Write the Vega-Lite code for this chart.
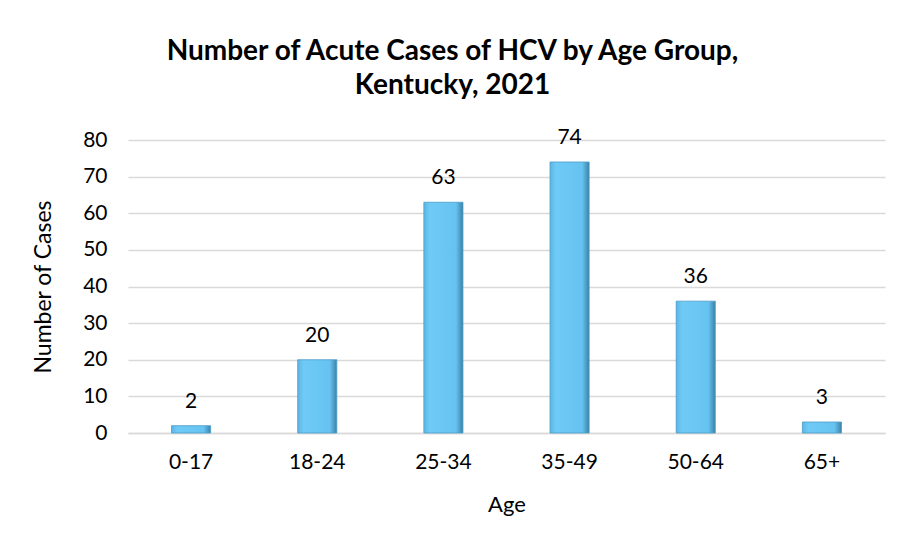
{
  "$schema": "https://vega.github.io/schema/vega-lite/v6.json",
  "autosize": {"type": "none"},
  "width": 757,
  "height": 293,
  "padding": {"left": 128, "top": 140, "right": 19, "bottom": 114},
  "background": "white",
  "title": {
    "text": ["Number of Acute Cases of HCV by Age Group,", "Kentucky, 2021"],
    "font": "Lato",
    "fontSize": 28,
    "fontWeight": "bold",
    "color": "#000000",
    "lineHeight": 34,
    "anchor": "middle",
    "dx": -54,
    "offset": 27
  },
  "data": {
    "values": [
      {"age": "0-17", "cases": 2},
      {"age": "18-24", "cases": 20},
      {"age": "25-34", "cases": 63},
      {"age": "35-49", "cases": 74},
      {"age": "50-64", "cases": 36},
      {"age": "65+", "cases": 3}
    ]
  },
  "encoding": {
    "x": {
      "field": "age",
      "type": "nominal",
      "sort": null,
      "scale": {"paddingInner": 0.69, "paddingOuter": 0.345},
      "axis": {
        "title": "Age",
        "labelAngle": 0,
        "labelFont": "Lato",
        "labelFontSize": 21,
        "labelColor": "#000000",
        "titleFont": "Lato",
        "titleFontSize": 22,
        "titleFontWeight": "normal",
        "titleColor": "#000000",
        "titlePadding": 22,
        "labelPadding": 18,
        "domain": true,
        "domainColor": "#d9d9d9",
        "domainWidth": 1.5,
        "ticks": false
      }
    },
    "y": {
      "field": "cases",
      "type": "quantitative",
      "scale": {"domain": [0, 80]},
      "axis": {
        "title": "Number of Cases",
        "values": [0, 10, 20, 30, 40, 50, 60, 70, 80],
        "labelFont": "Lato",
        "labelFontSize": 21,
        "labelColor": "#000000",
        "titleFont": "Lato",
        "titleFontSize": 23,
        "titleFontWeight": "normal",
        "titleColor": "#000000",
        "titlePadding": 27,
        "labelPadding": 21,
        "domain": false,
        "ticks": false,
        "gridColor": "#d9d9d9",
        "gridWidth": 1.5
      }
    }
  },
  "layer": [
    {
      "mark": {
        "type": "bar",
        "color": {
          "gradient": "linear",
          "x1": 0, "y1": 0, "x2": 1, "y2": 0,
          "stops": [
            {"offset": 0, "color": "#5cb6e4"},
            {"offset": 0.15, "color": "#6fcaf6"},
            {"offset": 0.82, "color": "#66c3f1"},
            {"offset": 1, "color": "#3b82a8"}
          ]
        },
        "stroke": "#4a9cc8",
        "strokeWidth": 0.8
      }
    },
    {
      "mark": {
        "type": "text",
        "dy": -18,
        "baseline": "alphabetic",
        "font": "Lato",
        "fontSize": 21,
        "color": "#000000"
      },
      "encoding": {"text": {"field": "cases", "type": "quantitative"}}
    }
  ],
  "config": {"view": {"stroke": null}}
}
